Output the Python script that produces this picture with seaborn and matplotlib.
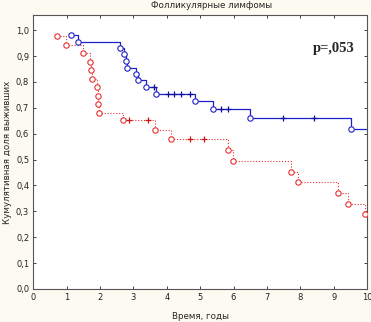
import matplotlib
matplotlib.use("Agg")
import matplotlib.pyplot as plt
import seaborn as sns
import pandas as pd

# Kaplan-Meier data (time in years, cumulative survival)
blue_event_t = [1.12, 1.35, 2.59, 2.72, 2.79, 2.80, 3.07, 3.13, 3.38, 3.69, 4.85, 5.39, 6.49, 9.52]
blue_event_s = [0.981, 0.955, 0.932, 0.906, 0.882, 0.855, 0.830, 0.806, 0.780, 0.754, 0.726, 0.695, 0.661, 0.620]
blue_cens_t = [3.61, 4.03, 4.23, 4.43, 4.69, 5.61, 5.84, 7.47, 8.42]
blue_cens_s = [0.780, 0.754, 0.754, 0.754, 0.754, 0.695, 0.695, 0.661, 0.661]
blue_last_t = 10.0

red_event_t = [0.72, 0.98, 1.50, 1.71, 1.74, 1.77, 1.90, 1.93, 1.95, 1.98, 2.68, 3.66, 4.14,
               5.83, 5.99, 7.72, 7.94, 9.12, 9.42, 9.93]
red_event_s = [0.977, 0.943, 0.912, 0.878, 0.846, 0.813, 0.781, 0.746, 0.713, 0.681, 0.651, 0.614, 0.579,
               0.537, 0.494, 0.453, 0.412, 0.369, 0.329, 0.288]
red_cens_t = [2.88, 3.43, 4.69, 5.11]
red_cens_s = [0.651, 0.651, 0.579, 0.579]
red_last_t = 10.0

x_ticks = list(range(0, 11))
y_ticks = [i / 10 for i in range(0, 11)]
y_labels = [f"{v:.1f}".replace(".", ",") for v in y_ticks]

BLUE = "#2020c8"
RED = "#e83030"
BG = "#fdfbf1"

sns.set_style("ticks")
plt.rcParams["font.family"] = ["DejaVu Sans"]

fig = plt.figure(figsize=(3.71, 3.22), dpi=100, facecolor=BG)
ax = fig.add_axes([0.0898, 0.1025, 0.8995, 0.8505])
ax.set_facecolor("white")

blue_line = pd.DataFrame({"t": blue_event_t + [blue_last_t], "s": blue_event_s + [blue_event_s[-1]]})
red_line = pd.DataFrame({"t": red_event_t + [red_last_t], "s": red_event_s + [red_event_s[-1]]})

sns.lineplot(data=blue_line, x="t", y="s", drawstyle="steps-post", sort=False, estimator=None,
             color=BLUE, lw=0.9, ax=ax)
sns.lineplot(data=red_line, x="t", y="s", drawstyle="steps-post", sort=False, estimator=None,
             color=RED, lw=0.8, linestyle=(0, (1, 1.6)), ax=ax)

# events: hollow circles
sns.scatterplot(x=blue_event_t, y=blue_event_s, marker="o", s=15, facecolor="white",
                edgecolor=BLUE, linewidth=0.8, ax=ax, zorder=4)
sns.scatterplot(x=red_event_t, y=red_event_s, marker="o", s=15, facecolor="white",
                edgecolor=RED, linewidth=0.8, ax=ax, zorder=4)

# censored: crosses
sns.scatterplot(x=blue_cens_t, y=blue_cens_s, marker="+", s=20, color="#10109a",
                linewidth=0.9, ax=ax, zorder=4)
sns.scatterplot(x=red_cens_t, y=red_cens_s, marker="+", s=20, color="#c01818",
                linewidth=0.9, ax=ax, zorder=4)

ax.set_xlim(0, 10)
ax.set_ylim(0, 1.058)
ax.set_xticks(x_ticks)
ax.set_yticks(y_ticks)
ax.set_yticklabels(y_labels)
ax.tick_params(direction="in", length=2.5, width=0.6, labelsize=6, colors="#222222",
               top=True, right=True, pad=3)
for sp in ax.spines.values():
    sp.set_color("#555555")
    sp.set_linewidth(0.8)

ax.set_xlabel("Время, годы", fontsize=6.3, labelpad=7)
ax.set_ylabel("Кумулятивная доля выживших", fontsize=6.3, labelpad=3)

fig.text(0.569, 0.982, "Фолликулярные лимфомы", ha="center", va="center", fontsize=6.3)
ax.text(9.0, 0.93, "p=,053", fontsize=10.5, fontweight="bold", family="Liberation Serif",
        ha="center", va="center")

fig.savefig("out.png", dpi=100, facecolor=BG)
